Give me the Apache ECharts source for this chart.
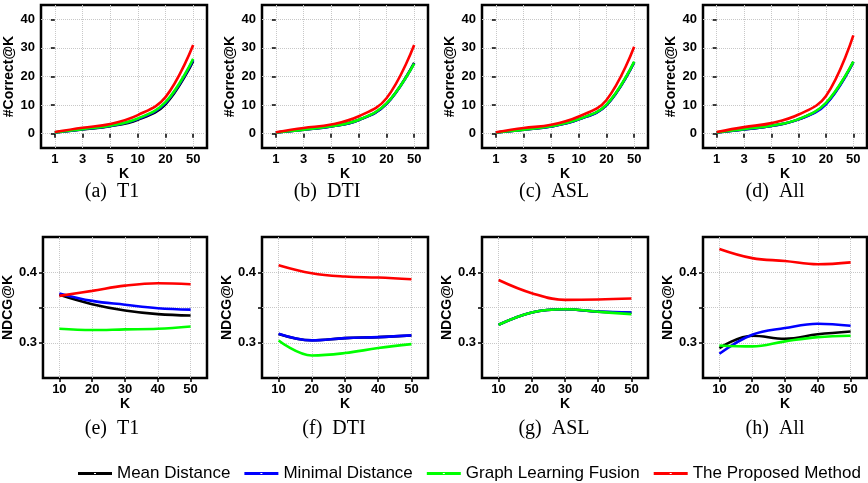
<!DOCTYPE html>
<html>
<head>
<meta charset="utf-8">
<script src="https://cdn.jsdelivr.net/npm/echarts@6/dist/echarts.min.js"></script>
<style>
  html, body { margin: 0; padding: 0; background: #fff; }
  #chart { width: 868px; height: 483px; }
</style>
</head>
<body>
<div id="chart"></div>
<script>
// K values
var kTop = ['1', '3', '5', '10', '20', '50'];
var kBottom = [10, 20, 30, 40, 50];
var methodNames = ['Mean Distance', 'Minimal Distance', 'Graph Learning Fusion', 'The Proposed Method'];
var methodColors = ['#000000', '#0000ff', '#00ff00', '#ff0000'];

// #Correct@K, one row per method (mean, minimal, fusion, proposed)
var correctT1 = [
  [0.4, 1.5, 2.6, 4.9, 10.3, 25.4],
  [0.4, 1.55, 2.7, 5.1, 10.7, 25.8],
  [0.45, 1.6, 2.8, 5.3, 11.0, 26.2],
  [0.6, 2.1, 3.4, 6.5, 12.8, 31.0]
];
var correctDTI = [
  [0.4, 1.4, 2.5, 4.8, 10.4, 24.8],
  [0.4, 1.4, 2.5, 4.8, 10.4, 24.6],
  [0.4, 1.4, 2.6, 4.9, 10.6, 24.5],
  [0.5, 2.0, 3.2, 6.1, 12.4, 31.0]
];
var correctASL = [
  [0.4, 1.4, 2.5, 5.0, 10.0, 25.0],
  [0.4, 1.4, 2.5, 5.0, 10.0, 25.0],
  [0.4, 1.4, 2.6, 5.1, 10.2, 25.2],
  [0.5, 2.0, 3.1, 6.0, 11.8, 30.4]
];
var correctAll = [
  [0.4, 1.5, 2.7, 5.0, 10.5, 25.1],
  [0.4, 1.5, 2.7, 5.0, 10.3, 25.0],
  [0.45, 1.6, 2.8, 5.1, 10.8, 25.2],
  [0.6, 2.3, 3.7, 6.7, 13.2, 34.4]
];

// NDCG@K
var ndcgT1 = [
  [0.368, 0.3547, 0.3458, 0.3406, 0.3387],
  [0.370, 0.3594, 0.354, 0.349, 0.347],
  [0.3198, 0.318, 0.319, 0.3198, 0.323],
  [0.3665, 0.3736, 0.381, 0.3845, 0.383]
];
var ndcgDTI = [
  [0.3125, 0.3035, 0.3065, 0.308, 0.3102],
  [0.3127, 0.3033, 0.3066, 0.308, 0.3104],
  [0.3033, 0.282, 0.2854, 0.2925, 0.298],
  [0.410, 0.3986, 0.3939, 0.3925, 0.390]
];
var ndcgASL = [
  [0.3255, 0.343, 0.3476, 0.344, 0.3425],
  [0.3255, 0.343, 0.3476, 0.3442, 0.343],
  [0.3255, 0.343, 0.3476, 0.3439, 0.3406],
  [0.389, 0.3703, 0.3608, 0.3613, 0.3627]
];
var ndcgAll = [
  [0.2925, 0.310, 0.3057, 0.312, 0.316],
  [0.2844, 0.3113, 0.3208, 0.327, 0.324],
  [0.2962, 0.2948, 0.302, 0.308, 0.310],
  [0.433, 0.420, 0.416, 0.4113, 0.414]
];

var topPanels = [correctT1, correctDTI, correctASL, correctAll];
var bottomPanels = [ndcgT1, ndcgDTI, ndcgASL, ndcgAll];
var topCaptions = ['(a)  T1', '(b)  DTI', '(c)  ASL', '(d)  All'];
var bottomCaptions = ['(e)  T1', '(f)  DTI', '(g)  ASL', '(h)  All'];

// layout
var colLeft = [41, 262, 482, 703];
var colWidth = [166, 166, 166, 164];
var topCapX = [107, 322, 549, 770];
var botCapX = [107, 329, 549, 770];

var sansFont = 'Liberation Sans, Arial, sans-serif';
var boldText = { fontWeight: 'bold', fontSize: 13, color: '#000', fontFamily: sansFont };
var nameText = { fontWeight: 'bold', fontSize: 14, color: '#000', fontFamily: sansFont };
var gridLine = { show: true, lineStyle: { type: 'dotted', color: '#c8c8c8', width: 1 } };
var tickStyle = { length: 4, lineStyle: { color: '#000', width: 1.5 } };
var captionText = { fontFamily: 'Liberation Serif, Times New Roman, serif', fontWeight: 'normal', fontSize: 20, color: '#000' };

var grids = [], xAxes = [], yAxes = [], series = [], titles = [];

function addLines(gi, rows, xs) {
  for (var m = 0; m < rows.length; m++) {
    var pts = [];
    for (var j = 0; j < rows[m].length; j++) pts.push([xs[j], rows[m][j]]);
    series.push({
      name: methodNames[m],
      type: 'line',
      xAxisIndex: gi,
      yAxisIndex: gi,
      data: pts,
      smooth: 0.4,
      showSymbol: false,
      lineStyle: { color: methodColors[m], width: 2.6 },
      itemStyle: { color: methodColors[m] }
    });
  }
}

for (var c = 0; c < 4; c++) {
  // top row: #Correct@K
  grids.push({ left: colLeft[c], top: 5, width: colWidth[c], height: 143, show: true, borderColor: '#000', borderWidth: 2.5 });
  xAxes.push({
    type: 'value', gridIndex: grids.length - 1, min: -0.5, max: 5.5,
    axisLine: { show: false },
    axisTick: Object.assign({ customValues: [0, 1, 2, 3, 4, 5] }, tickStyle),
    axisLabel: Object.assign({ customValues: [0, 1, 2, 3, 4, 5], margin: 5, formatter: function (v) { return kTop[Math.round(v)]; } }, boldText),
    splitLine: gridLine,
    name: 'K', nameLocation: 'middle', nameGap: 11, nameTextStyle: nameText
  });
  yAxes.push({
    type: 'value', gridIndex: grids.length - 1, min: -5, max: 45,
    axisLine: { show: false },
    axisTick: Object.assign({ customValues: [0, 10, 20, 30, 40] }, tickStyle),
    axisLabel: Object.assign({ customValues: [0, 10, 20, 30, 40], margin: 6 }, boldText),
    splitLine: gridLine,
    name: '#Correct@K', nameLocation: 'middle', nameGap: 19, nameTextStyle: nameText
  });
  var idx = [];
  for (var k = 0; k < kTop.length; k++) idx.push(k);
  addLines(grids.length - 1, topPanels[c], idx);
  titles.push({ text: topCaptions[c], left: topCapX[c], top: 177, textAlign: 'center', textStyle: captionText });
}

for (var c2 = 0; c2 < 4; c2++) {
  // bottom row: NDCG@K
  grids.push({ left: colLeft[c2], top: 237, width: colWidth[c2], height: 141, show: true, borderColor: '#000', borderWidth: 2.5 });
  xAxes.push({
    type: 'value', gridIndex: grids.length - 1, min: 5, max: 55,
    axisLine: { show: false },
    axisTick: Object.assign({ customValues: kBottom }, tickStyle),
    axisLabel: Object.assign({ customValues: kBottom, margin: 5 }, boldText),
    splitLine: gridLine,
    name: 'K', nameLocation: 'middle', nameGap: 11, nameTextStyle: nameText
  });
  yAxes.push({
    type: 'value', gridIndex: grids.length - 1, min: 0.25, max: 0.45,
    axisLine: { show: false },
    axisTick: Object.assign({ customValues: [0.3, 0.35, 0.4] }, tickStyle),
    axisLabel: Object.assign({ customValues: [0.3, 0.4], margin: 6, formatter: function (v) { return v.toFixed(1); } }, boldText),
    splitLine: gridLine,
    name: 'NDCG@K', nameLocation: 'middle', nameGap: 21, nameTextStyle: nameText
  });
  addLines(grids.length - 1, bottomPanels[c2], kBottom);
  titles.push({ text: bottomCaptions[c2], left: botCapX[c2], top: 414, textAlign: 'center', textStyle: captionText });
}

var myChart = echarts.init(document.getElementById('chart'));
myChart.setOption({
  animation: false,
  backgroundColor: '#fff',
  title: titles,
  legend: {
    data: methodNames,
    left: 73, top: 460,
    // line with a small white dot in the middle
    icon: 'path://M0,0 H34 V3 H0 Z M16,1 V2 H18 V1 Z',
    itemWidth: 34, itemHeight: 3, itemGap: 14,
    textStyle: { fontSize: 17, color: '#000', fontFamily: sansFont }
  },
  grid: grids,
  xAxis: xAxes,
  yAxis: yAxes,
  series: series
});
</script>
</body>
</html>
